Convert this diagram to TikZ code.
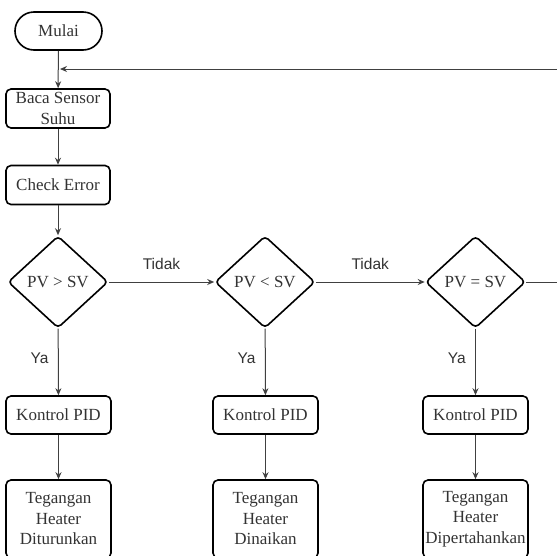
\documentclass[tikz,border=0pt]{standalone}
\usepackage{fontspec}
\setmainfont{Liberation Serif}
\newfontfamily\labelfont{Liberation Sans}
\usetikzlibrary{shapes.geometric,arrows.meta}
\definecolor{txt}{HTML}{333333}
\definecolor{ln}{HTML}{404040}
\begin{document}
\begin{tikzpicture}[x=1pt,y=-1pt,
  procbox/.style={draw=black,line width=1.6pt,rounded corners=5pt,inner sep=0pt,
    text=txt,font=\fontsize{17}{20.5}\selectfont,align=center},
  startbox/.style={procbox,rounded corners=19pt},
  decbox/.style={draw=black,line width=1.6pt,diamond,rounded corners=4pt,inner sep=0pt,
    minimum width=100pt,minimum height=92pt},
  decl/.style={text=txt,font=\fontsize{17}{20}\selectfont},
  flow/.style={draw=ln,line width=1pt,-{Stealth[length=7pt,width=6pt]}},
  plain/.style={draw=ln,line width=1pt},
  edgelab/.style={text=txt,font=\labelfont\fontsize{15.5}{18}\selectfont}
]
\useasboundingbox (0,0) rectangle (557,555);
\fill[white] (0,0) rectangle (557,555);

\node[startbox,minimum width=87pt,minimum height=38pt] (mulai) at (58.5,31) {Mulai};
\node[procbox,minimum width=104pt,minimum height=39pt] (baca) at (58,108.5) {Baca Sensor\\Suhu};
\node[procbox,minimum width=104pt,minimum height=39pt] (check) at (58,185) {Check Error};

\node[decbox] (d1) at (58,282) {};
\node[decl] at (d1.center) {PV > SV};
\node[decbox] (d2) at (265,282) {};
\node[decl] at (d2.center) {PV < SV};
\node[decbox] (d3) at (475.5,282) {};
\node[decl] at (d3.center) {PV = SV};

\node[procbox,minimum width=105pt,minimum height=38pt] (k1) at (58.5,415) {Kontrol PID};
\node[procbox,minimum width=105pt,minimum height=38pt] (k2) at (265.5,415) {Kontrol PID};
\node[procbox,minimum width=105pt,minimum height=38pt] (k3) at (475.5,415) {Kontrol PID};

\node[procbox,minimum width=105pt,minimum height=78pt] (t1) at (58.5,519) {Tegangan\\Heater\\Diturunkan};
\node[procbox,minimum width=105pt,minimum height=78pt] (t2) at (265.5,519) {Tegangan\\Heater\\Dinaikan};
\node[procbox,minimum width=105pt,minimum height=78pt] (t3) at (475.5,519) {Tegangan\\Heater\\Dipertahankan};

\coordinate (loopR) at (557,69);
\coordinate (loopL) at (58,69);
\coordinate (outR) at (557,282);

\draw[flow] (mulai) -- (baca);
\draw[flow] (loopR) -- ([xshift=2pt]loopL);
\draw[flow] (baca) -- (check);
\draw[flow] (check) -- (d1);
\draw[flow] (d1) -- node[edgelab,above=9pt]{Tidak} (d2);
\draw[flow] (d2) -- node[edgelab,above=9pt]{Tidak} (d3);
\draw[plain] (d3) -- (outR);
\draw[flow] (d1) -- node[edgelab,pos=0.45,left=6pt]{Ya} (k1);
\draw[flow] (d2) -- node[edgelab,pos=0.45,left=6pt]{Ya} (k2);
\draw[flow] (d3) -- node[edgelab,pos=0.45,left=6pt]{Ya} (k3);
\draw[flow] (k1) -- (t1);
\draw[flow] (k2) -- (t2);
\draw[flow] (k3) -- (t3);
\end{tikzpicture}
\end{document}
